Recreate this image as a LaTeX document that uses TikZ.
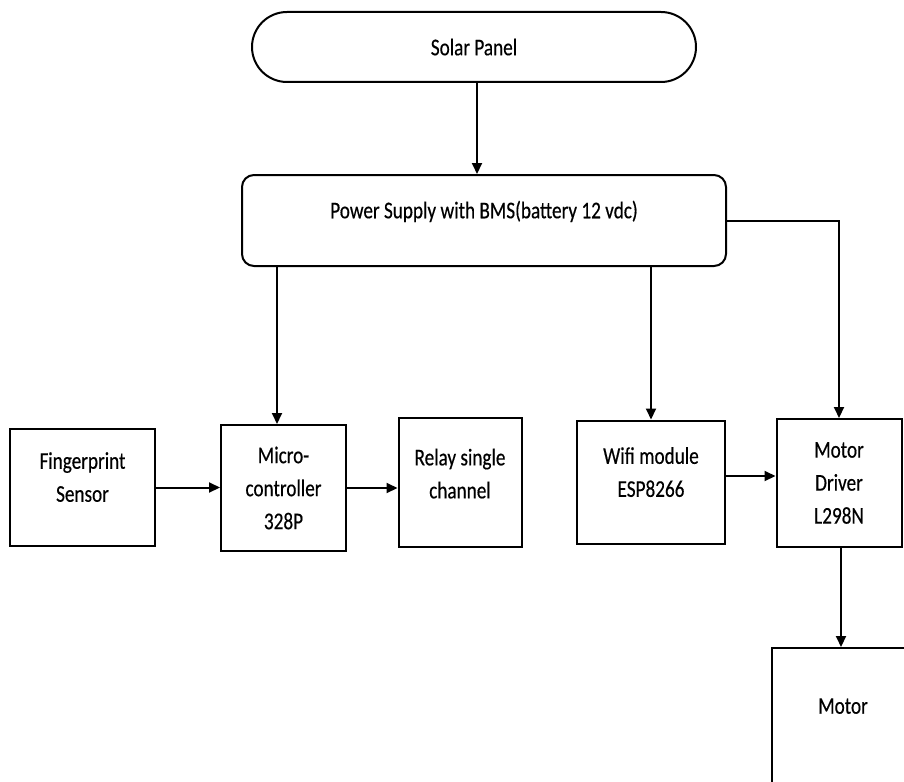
\documentclass[tikz,border=0pt]{standalone}
\usepackage{fontspec}
\setmainfont[FakeStretch=0.8,FakeBold=0.4]{Carlito}
\usetikzlibrary{positioning, arrows.meta}

\begin{document}
\begin{tikzpicture}[x=1pt,y=-1pt,>={Triangle[length=11pt,width=10pt]},
  font=\fontsize{24}{33}\selectfont,
  block/.style={draw,line width=2pt,align=center,inner sep=0pt},
  link/.style={->,line width=2pt}]
  \useasboundingbox (0,0) rectangle (904,781);
  \clip (0,0) rectangle (904,781);

  \node[block, rounded corners=35pt, minimum width=444pt, minimum height=70pt] (solar) at (474,47) {Solar Panel};
  \node[block, rounded corners=12pt, minimum width=484pt, minimum height=91pt, text depth=22pt] (power) at (484,220.5) {Power Supply with BMS(battery 12 vdc)};

  \node[block, minimum width=145pt, minimum height=117pt, text depth=21pt] (finger) at (82.5,487.5) {Fingerprint\\Sensor};
  \node[block, minimum width=125pt, minimum height=126pt] (micro) at (283.5,488) {Micro-\\controller\\328P};
  \node[block, minimum width=123pt, minimum height=129pt, text depth=18pt] (relay) at (460,482.5) {Relay single\\channel};
  \node[block, minimum width=148pt, minimum height=123pt, text depth=20pt] (wifi) at (651,482) {Wifi module\\ESP8266};
  \node[block, minimum width=125pt, minimum height=128pt] (driver) at (839,483) {Motor\\Driver\\L298N};
  \node[block, minimum width=142pt, minimum height=200pt, text depth=84pt] (motor) at (843,748) {Motor};

  \draw[link] (solar.south -| 477,0) -- (power.north -| 477,0);
  \draw[link] (power.south -| 277,0) -- (micro.north -| 277,0);
  \draw[link] (power.south -| wifi.north) -- (wifi.north);
  \draw[link] (power.east) -| (driver.north);
  \draw[link] (finger.east) -- (micro.west |- finger.east);
  \draw[link] (micro.east) -- (relay.west |- micro.east);
  \draw[link] (wifi.east |- 0,476) -- (driver.west |- 0,476);
  \draw[link] (driver.south -| 841,0) -- (motor.north -| 841,0);
\end{tikzpicture}
\end{document}
